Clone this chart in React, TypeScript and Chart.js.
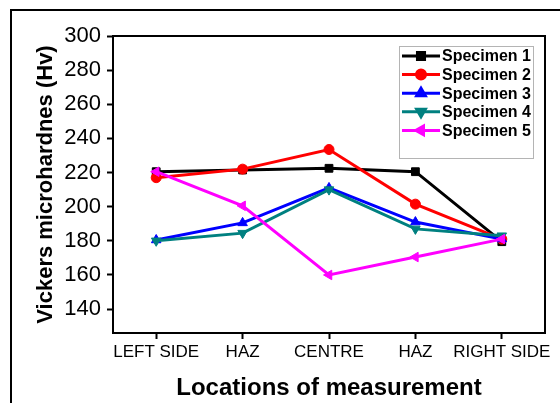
import { useEffect, useRef } from "react";
import { Chart, registerables, Plugin } from "chart.js";
import { drawPoint } from "chart.js/helpers";

Chart.register(...registerables);

/* ---------------- Data ---------------- */

const locations = ["LEFT SIDE", "HAZ", "CENTRE", "HAZ", "RIGHT SIDE"];

const specimen1 = [220.5, 221.5, 222.5, 220.5, 179.5];
const specimen2 = [217, 222, 233.5, 201.5, 181];
const specimen3 = [180.5, 190.5, 211, 191, 181];
const specimen4 = [180, 184.5, 210, 187, 183];
const specimen5 = [220.5, 200.5, 160, 170.5, 181];

const seriesNames = ["Specimen 1", "Specimen 2", "Specimen 3", "Specimen 4", "Specimen 5"];
const seriesValues = [specimen1, specimen2, specimen3, specimen4, specimen5];

const yTicksMin = 126;
const yTicksMax = 300;

/* ---------------- Styles ---------------- */

const colors = ["#000000", "#ff0000", "#0000ff", "#008080", "#ff00ff"];
const markers = ["rect", "circle", "triangle", "triangle", "triangle"] as const;
const rotations = [0, 0, 0, 180, 270];
const radii = [5.5, 5, 5.5, 5.5, 5.5];
const legendRadii = [5, 4.5, 5, 5, 5];

const FONT = "Arial, 'Liberation Sans', sans-serif";

/* ---------------- Plugins ---------------- */

// box round the plot area
const plotFrame: Plugin<"line"> = {
  id: "plotFrame",
  afterDraw(chart) {
    const { ctx, chartArea: a } = chart;
    ctx.save();
    ctx.strokeStyle = "#000";
    ctx.lineWidth = 2;
    ctx.strokeRect(a.left, a.top, a.right - a.left, a.bottom - a.top);
    ctx.restore();
  },
};

// legend inside the plot, top right
const insideLegend: Plugin<"line"> = {
  id: "insideLegend",
  afterDraw(chart) {
    const { ctx, chartArea: a } = chart;
    const w = 134;
    const h = 112;
    const left = a.right - 12 - w;
    const top = a.top + 10;
    ctx.save();
    ctx.fillStyle = "#fff";
    ctx.fillRect(left, top, w, h);
    ctx.strokeStyle = "#b4b4b4";
    ctx.lineWidth = 1;
    ctx.strokeRect(left + 0.5, top + 0.5, w, h);
    seriesNames.forEach((name, i) => {
      const y = top + 10 + i * 18.6;
      ctx.strokeStyle = colors[i];
      ctx.fillStyle = colors[i];
      ctx.lineWidth = 3;
      ctx.beginPath();
      ctx.moveTo(left + 3, y);
      ctx.lineTo(left + 41, y);
      ctx.stroke();
      drawPoint(
        ctx,
        { pointStyle: markers[i], rotation: rotations[i], radius: legendRadii[i], borderWidth: 1 },
        left + 22,
        y
      );
      ctx.fillStyle = "#000";
      ctx.font = `bold 16px ${FONT}`;
      ctx.textBaseline = "middle";
      ctx.textAlign = "left";
      ctx.fillText(name, left + 43, y + 1);
    });
    ctx.restore();
  },
};

/* ---------------- Component ---------------- */

const HardnessChart = () => {
  const canvasRef = useRef<HTMLCanvasElement | null>(null);
  const chartRef = useRef<Chart<"line", number[], string> | null>(null);

  useEffect(() => {
    if (!canvasRef.current) return;
    if (chartRef.current) chartRef.current.destroy();

    chartRef.current = new Chart(canvasRef.current, {
      type: "line",
      data: {
        labels: locations,
        datasets: seriesValues.map((vals, i) => ({
          label: seriesNames[i],
          data: vals,
          borderColor: colors[i],
          backgroundColor: colors[i],
          borderWidth: 3,
          pointStyle: markers[i],
          rotation: rotations[i],
          pointRadius: radii[i],
          pointBorderWidth: 1,
          tension: 0,
          fill: false,
          order: seriesNames.length - 1 - i,
        })),
      },
      options: {
        animation: false,
        responsive: false,
        maintainAspectRatio: false,
        layout: { padding: { left: 29, right: 15, top: 36, bottom: 0 } },
        plugins: {
          legend: { display: false },
          tooltip: { enabled: false },
        },
        scales: {
          x: {
            offset: true,
            grid: {
              offset: false,
              drawOnChartArea: false,
              drawTicks: true,
              tickLength: 6,
              tickWidth: 2,
              tickColor: "#000",
            },
            border: { display: true, color: "#000", width: 2 },
            ticks: {
              color: "#000",
              padding: 3,
              maxRotation: 0,
              autoSkip: false,
              font: { family: FONT, size: 17 },
            },
            title: {
              display: true,
              text: "Locations of measurement",
              color: "#000",
              padding: { top: 0, bottom: 0 },
              font: { family: FONT, size: 24, weight: "bold" },
            },
            afterFit: (scale) => {
              scale.height = 70;
            },
          },
          y: {
            min: yTicksMin,
            max: yTicksMax,
            grid: {
              drawOnChartArea: false,
              drawTicks: true,
              tickLength: 6,
              tickWidth: 2,
              tickColor: "#000",
            },
            border: { display: true, color: "#000", width: 2 },
            ticks: {
              stepSize: 10,
              color: "#000",
              padding: 6,
              font: { family: FONT, size: 22 },
              callback: (v) => (Number(v) % 20 === 0 ? String(v) : ""),
            },
            afterBuildTicks: (scale) => {
              scale.ticks = scale.ticks.filter((t) => t.value % 10 === 0);
            },
            title: {
              display: true,
              text: "Vickers microhardnes (Hv)",
              color: "#000",
              padding: { top: 4, bottom: 0 },
              font: { family: FONT, size: 22, weight: "bold" },
            },
            afterFit: (scale) => {
              scale.width = 84;
            },
          },
        },
      },
      plugins: [plotFrame, insideLegend],
    });

    return () => {
      if (chartRef.current) {
        chartRef.current.destroy();
        chartRef.current = null;
      }
    };
  }, []);

  return <canvas ref={canvasRef} width={560} height={403} style={{ display: "block" }} />;
};

export default function App() {
  return (
    <div
      style={{
        position: "fixed",
        left: 0,
        top: 0,
        width: 560,
        height: 403,
        overflow: "hidden",
        background: "#fff",
      }}
    >
      <HardnessChart />
      <div
        style={{
          position: "absolute",
          left: 10,
          top: 9,
          width: 600,
          height: 450,
          border: "2px solid #000",
          pointerEvents: "none",
        }}
      />
    </div>
  );
}
